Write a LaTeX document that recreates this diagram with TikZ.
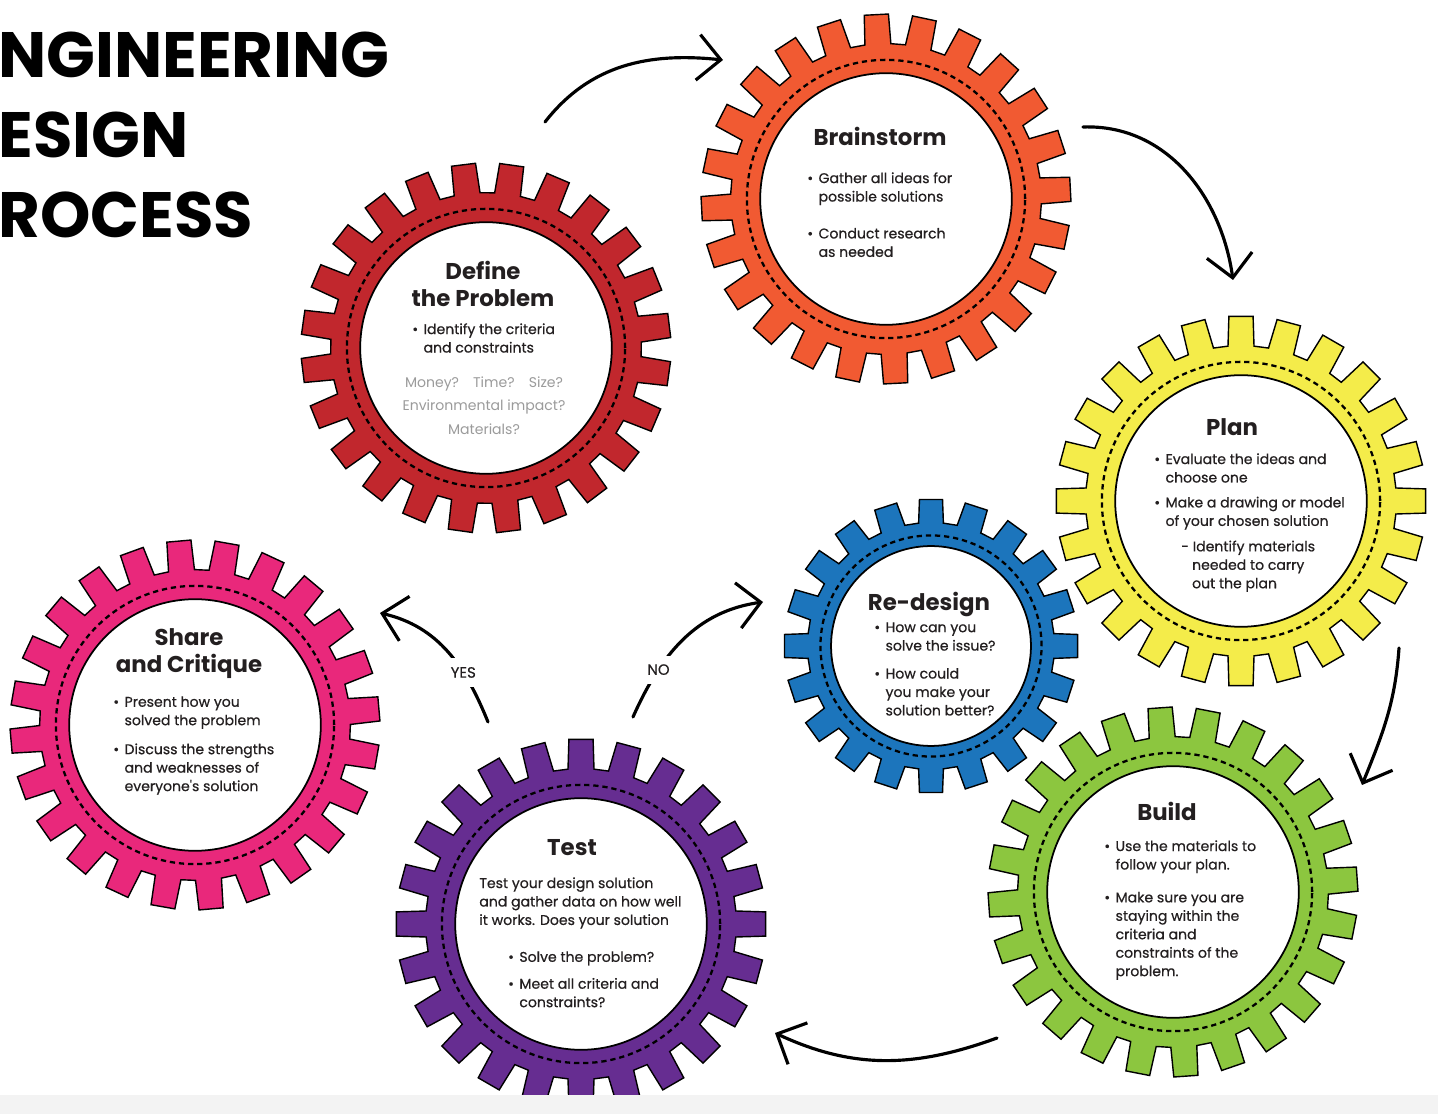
\documentclass[tikz,border=0pt]{standalone}
\usepackage{fontspec}
\setmainfont{Poppins}
\newfontfamily\bodyfont{Poppins}[FakeBold=0.6]
\usetikzlibrary{arrows.meta,calc}

\definecolor{defred}{RGB}{193,39,45}
\definecolor{brainorange}{RGB}{241,90,50}
\definecolor{planyellow}{RGB}{244,236,74}
\definecolor{redesignblue}{RGB}{28,117,188}
\definecolor{buildgreen}{RGB}{140,198,63}
\definecolor{testpurple}{RGB}{102,45,145}
\definecolor{sharepink}{RGB}{233,40,123}
\definecolor{inkgrey}{RGB}{35,31,32}
\definecolor{softgrey}{RGB}{155,155,155}
\definecolor{bandgrey}{RGB}{243,243,243}

\tikzset{
  gearline/.style={draw=black, line width=0.8pt, line join=miter},
  hub/.style={circle, draw=black, line width=1pt, fill=white, inner sep=0pt},
  dotring/.style={draw=black, line width=1.3pt, dash pattern=on 3pt off 2.2pt},
  title/.style={font=\bfseries\fontsize{36.5}{40}\selectfont, text=black, inner sep=0pt, anchor=base west},
  head/.style={font=\bfseries\fontsize{13}{15.3}\selectfont, text=inkgrey, align=center, inner sep=0pt, anchor=north},
  body/.style={font=\bodyfont\fontsize{8}{10.5}\selectfont, text=inkgrey, align=left, inner sep=0pt, anchor=north west},
  note/.style={font=\fontsize{8}{13.6}\selectfont, text=softgrey, align=center, inner sep=0pt, anchor=north},
  flow/.style={line width=1.8pt, line cap=round, -{Straight Barb[length=13pt,width=26pt]}},
  answer/.style={font=\bodyfont\fontsize{8.5}{10}\selectfont, text=inkgrey, fill=white, inner sep=5pt}
}

\newcommand{\bl}{\makebox[0.8em][l]{\textbullet}}
\newcommand{\hang}{\hspace*{0.8em}}

% gear: name, centre, outer radius, teeth, colour, turn of the teeth
\newcommand{\drawgear}[6]{%
  \pgfmathsetmacro{\gp}{360/#4}%
  \pgfmathsetmacro{\gr}{0.84*#3}%
  \pgfmathtruncatemacro{\gl}{#4-1}%
  \draw[gearline, fill=#5, shift={#2}] ({90+#6-0.32*\gp}:\gr)
    \foreach \k [evaluate=\k as \tang using 90+#6+\k*\gp] in {0,...,\gl}
      { -- ({\tang-0.32*\gp}:\gr) -- ({\tang-0.25*\gp}:#3) -- ({\tang+0.25*\gp}:#3) -- ({\tang+0.32*\gp}:\gr) } -- cycle;
  \node[hub, minimum size={2*0.68*#3*0.02cm}] (#1) at #2 {};
  \draw[dotring] #2 circle[radius={0.752*#3}];
}

\begin{document}
\begin{tikzpicture}[x=0.02cm, y=0.02cm]
\useasboundingbox (0,0) rectangle (1438,-1114);
\fill[white] (0,0) rectangle (1438,-1114);

% Title
\node[title] (t1) at (-2,-78) {NGINEERING};
\node[title] (t2) at (-2,-158) {ESIGN};
\node[title] (t3) at (-2,-238) {ROCESS};

% Drawing gear Define the Problem
\drawgear{define}{(486,-348)}{185}{24}{defred}{7}
\node[head] (define-head) at (483,-261) {Define\\the Problem};
\node[body] (define-txt) at (412,-323) {\bl Identify the criteria\\\hang and constraints};
\node[note] (define-note) at (484,-376) {Money?\quad Time?\quad Size?\\Environmental impact?\\Materials?};

% Drawing gear Brainstorm
\drawgear{brain}{(886,-199)}{185}{24}{brainorange}{3}
\node[head] (brain-head) at (880,-127) {Brainstorm};
\node[body] (brain-txt) at (807,-172) {\bl Gather all ideas for\\\hang possible solutions\\[10.5pt]\bl Conduct research\\\hang as needed};

% Drawing gear Plan
\drawgear{plan}{(1241,-501)}{185}{24}{planyellow}{0}
\node[head] (plan-head) at (1232,-418) {Plan};
\node[body] (plan-txt) at (1154,-453) {\bl Evaluate the ideas and\\\hang choose one\\[3.7pt]\bl Make a drawing or model\\\hang of your chosen solution\\[4pt]\hspace*{15.3pt}- Identify materials\\\hspace*{21.5pt}needed to carry\\\hspace*{21.5pt}out the plan};

% Drawing gear Re-design
\drawgear{redesign}{(931,-646)}{147}{20}{redesignblue}{0}
\node[head] (redesign-head) at (929,-592) {Re-design};
\node[body] (redesign-txt) at (874,-622) {\bl How can you\\\hang solve the issue?\\[5.4pt]\bl How could\\\hang you make your\\\hang solution better?};

% Drawing gear Build
\drawgear{build}{(1173,-892)}{185}{24}{buildgreen}{4}
\node[head] (build-head) at (1167,-802) {Build};
\node[body] (build-txt) at (1104,-840) {\bl Use the materials to\\\hang follow your plan.\\[8.2pt]\bl Make sure you are\\\hang staying within the\\\hang criteria and\\\hang constraints of the\\\hang problem.};

% Drawing gear Test
\drawgear{test}{(581,-924)}{185}{24}{testpurple}{0}
\node[head] (test-head) at (572,-839) {Test};
\node[body] (test-txt) at (479,-877) {Test your design solution\\and gather data on how well\\it works. Does your solution\\[10.5pt]\hspace*{16.4pt}\bl Solve the problem?\\[4.8pt]\hspace*{16.4pt}\bl Meet all criteria and\\\hspace*{16.4pt}\hang constraints?};

% Drawing gear Share and Critique
\drawgear{share}{(195,-725)}{185}{24}{sharepink}{5}
\node[head] (share-head) at (189,-628) {Share\\and Critique};
\node[body] (share-txt) at (113,-696) {\bl Present how you\\\hang solved the problem\\[6pt]\bl Discuss the strengths\\\hang and weaknesses of\\\hang everyone's solution};

% Arrow ends round the gears
\coordinate (d2b-a) at ($(define)+(59,226)$);
\coordinate (d2b-b) at ($(brain)+(-163,139)$);
\coordinate (b2p-a) at ($(brain)+(197,72)$);
\coordinate (b2p-b) at ($(plan)+(-8,221)$);
\coordinate (p2b-a) at ($(plan)+(158,-147)$);
\coordinate (p2b-b) at ($(build)+(189,107)$);
\coordinate (b2t-a) at ($(build)+(-176,-146)$);
\coordinate (b2t-b) at ($(test)+(194,-109)$);
\coordinate (yes-a) at ($(test)+(-93,202)$);
\coordinate (yes-b) at ($(share)+(185,112)$);
\coordinate (no-a) at ($(test)+(52,207)$);
\coordinate (no-b) at ($(redesign)+(-168,44)$);

% Drawing the cycle arrows
\draw[flow] (d2b-a) to[out=52,in=174] (d2b-b);
\draw[flow] (b2p-a) to[out=2,in=98] (b2p-b);
\draw[flow] (p2b-a) to[out=266,in=68] (p2b-b);
\draw[flow] (b2t-a) to[out=200,in=-25] (b2t-b);
\draw[flow] (yes-a) to[out=112,in=-13] node[answer, pos=0.33] (yes) {YES} (yes-b);
\draw[flow] (no-a) to[out=66,in=188] node[answer, pos=0.28] (no) {NO} (no-b);

% Grey strip at the bottom
\fill[bandgrey] (0,-1095) rectangle (1438,-1114);
\end{tikzpicture}
\end{document}
